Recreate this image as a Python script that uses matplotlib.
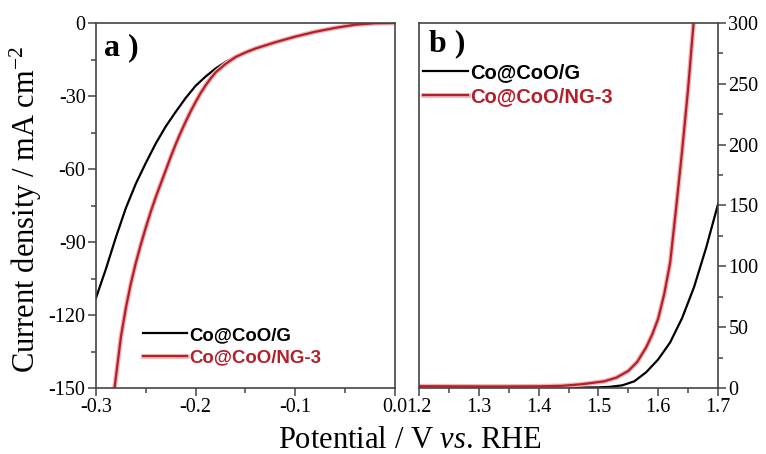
import numpy as np
import matplotlib
matplotlib.use("Agg")
import matplotlib.pyplot as plt
import matplotlib.patheffects as pe
from matplotlib.ticker import MultipleLocator, FormatStrFormatter

plt.rcParams['font.family'] = 'Liberation Serif'
plt.rcParams['axes.unicode_minus'] = False
plt.rcParams['mathtext.fontset'] = 'custom'
plt.rcParams['mathtext.rm'] = 'Liberation Serif'
plt.rcParams['mathtext.it'] = 'Liberation Serif:italic'

labels = ['Co@CoO/G', 'Co@CoO/NG-3']
colors = ['#000000', '#b3202a']

# HER polarisation (a)
her_E_g = [-0.30, -0.29, -0.28, -0.27, -0.26, -0.25, -0.24, -0.23, -0.22, -0.21,
           -0.20, -0.19, -0.18, -0.17, -0.16, -0.15, -0.14, -0.12, -0.10, -0.08,
           -0.06, -0.04, -0.02, 0.00]
her_j_g = [-113, -101, -88, -76, -66, -57.5, -49.5, -42.5, -36.5, -30.8,
           -25.8, -22, -18.7, -16, -13.8, -12, -10.4, -7.8, -5.5, -3.6,
           -2, -0.7, -0.1, 0]

her_E_ng = [-0.282, -0.275, -0.270, -0.265, -0.260, -0.255, -0.250, -0.245, -0.240,
            -0.235, -0.230, -0.225, -0.220, -0.215, -0.210, -0.205, -0.200, -0.195,
            -0.190, -0.185, -0.180, -0.170, -0.160, -0.150, -0.140, -0.120, -0.100,
            -0.080, -0.060, -0.040, -0.020, 0.000]
her_j_ng = [-152, -129, -117, -107, -98.5, -91, -84, -77.5, -71.5,
            -66, -60.5, -55, -49.8, -45, -40.5, -36.3, -32.4, -28.8,
            -25.6, -22.8, -20.3, -16.8, -14, -12.1, -10.5, -7.9, -5.6,
            -3.6, -2, -0.7, -0.1, 0]

# OER polarisation (b)
oer_E_g = [1.20, 1.30, 1.40, 1.45, 1.50, 1.52, 1.54, 1.56, 1.58, 1.60,
           1.62, 1.64, 1.66, 1.68, 1.70]
oer_j_g = [0.3, 0.2, 0.2, 0.3, 0.5, 1.0, 2.2, 5.5, 13, 23.5,
           37.5, 57.5, 83, 115, 151]

oer_E_ng = [1.20, 1.25, 1.30, 1.35, 1.40, 1.44, 1.47, 1.49, 1.51, 1.53, 1.55,
            1.565, 1.58, 1.59, 1.60, 1.61, 1.62, 1.63, 1.64, 1.65, 1.66]
oer_j_ng = [1.5, 1.4, 1.3, 1.3, 1.4, 1.8, 3.0, 4.2, 5.5, 8.5, 14,
            21.5, 33.5, 44, 57, 77, 103, 148, 195, 246, 305]

fig = plt.figure(figsize=(7.66, 4.54), dpi=100)
W, H = 766, 454
ax1 = fig.add_axes([96 / W, 1 - 388 / H, 299 / W, 365 / H])
ax2 = fig.add_axes([419 / W, 1 - 388 / H, 299 / W, 365 / H])

glow = [pe.Stroke(linewidth=3.4, foreground='#f0b4b4'), pe.Normal()]

ax1.plot(her_E_g, her_j_g, color=colors[0], lw=1.6, label=labels[0])
ax1.plot(her_E_ng, her_j_ng, color=colors[1], lw=1.6, label=labels[1], path_effects=glow)
ax2.plot(oer_E_g, oer_j_g, color=colors[0], lw=1.6, label=labels[0])
ax2.plot(oer_E_ng, oer_j_ng, color=colors[1], lw=1.6, label=labels[1], path_effects=glow)

ax1.set_xlim(-0.3, 0.0)
ax1.set_ylim(-150, 0)
ax2.set_xlim(1.2, 1.7)
ax2.set_ylim(0, 300)

for ax in (ax1, ax2):
    for s in ax.spines.values():
        s.set_color('#444444')
        s.set_linewidth(1.2)
    ax.xaxis.set_major_locator(MultipleLocator(0.1))
    ax.xaxis.set_minor_locator(MultipleLocator(0.05))
    ax.xaxis.set_major_formatter(FormatStrFormatter('%.1f'))
    ax.tick_params(which='major', direction='out', length=6, width=1.1,
                   color='#444444', labelsize=14.5, pad=1.5)
    ax.tick_params(which='minor', direction='out', length=3.5, width=1.1,
                   color='#444444')

ax1.yaxis.set_major_locator(MultipleLocator(30))
ax1.yaxis.set_minor_locator(MultipleLocator(15))
ax1.yaxis.set_major_formatter(FormatStrFormatter('%d'))
ax1.tick_params(which='both', top=False, right=False)

ax2.yaxis.set_major_locator(MultipleLocator(50))
ax2.yaxis.set_minor_locator(MultipleLocator(25))
ax2.yaxis.set_major_formatter(FormatStrFormatter('%d'))
ax2.tick_params(which='both', left=False, labelleft=False, right=True,
                labelright=True, top=False)

ax1.set_ylabel('Current density / mA cm$^{-2}$', fontsize=22)
ax1.yaxis.set_label_coords(-0.175, 0.49)
fig.text(410 / W, 1 - 448 / H, 'Potential / V $\\it{vs}$. RHE', fontsize=22,
         ha='center', va='baseline')

ax1.text(0.028, 0.912, 'a )', transform=ax1.transAxes, fontsize=23,
         fontweight='bold', va='baseline')
ax2.text(0.035, 0.922, 'b )', transform=ax2.transAxes, fontsize=23,
         fontweight='bold', va='baseline')

ax1.legend(loc='center left', bbox_to_anchor=(0.157, 0.113), frameon=False,
           prop={'family': 'Liberation Sans', 'weight': 'bold', 'size': 13.4},
           handlelength=2.37, handletextpad=0.12, labelspacing=0.3,
           borderpad=0, borderaxespad=0, labelcolor='linecolor')
ax2.legend(loc='center left', bbox_to_anchor=(0.012, 0.831), frameon=False,
           prop={'family': 'Liberation Sans', 'weight': 'bold', 'size': 14.5},
           handlelength=2.24, handletextpad=0.12, labelspacing=0.25,
           borderpad=0, borderaxespad=0, labelcolor='linecolor')

fig.savefig('out.png', dpi=100)
